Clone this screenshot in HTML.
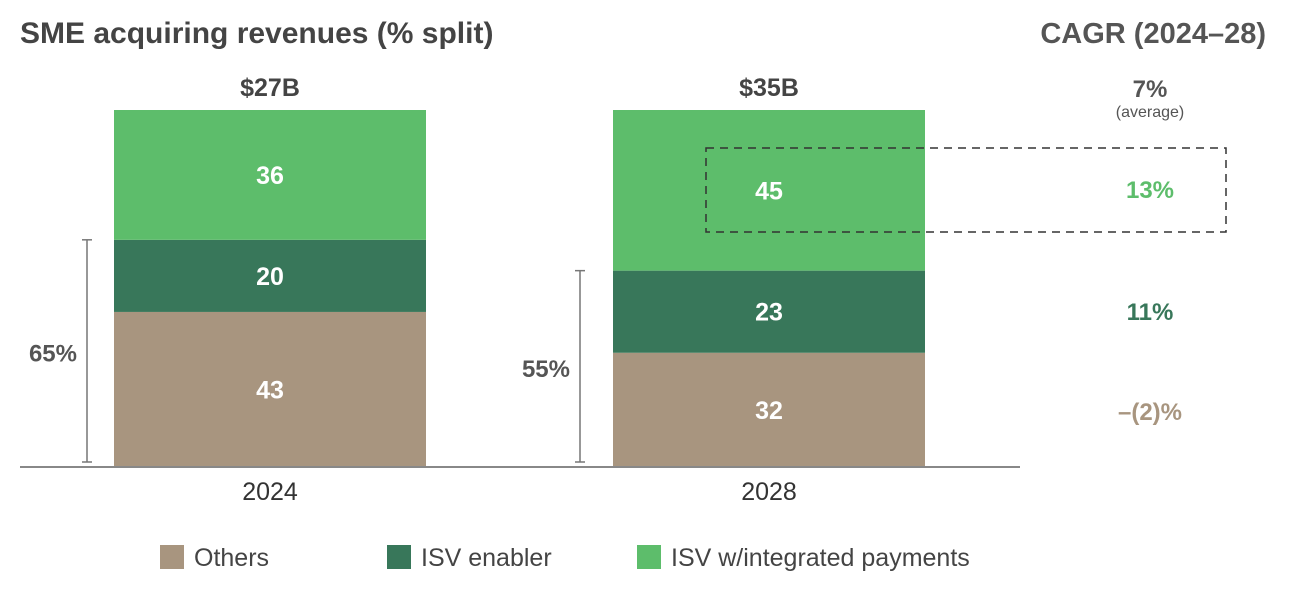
<!DOCTYPE html>
<html><head><meta charset="utf-8"><style>
html,body{margin:0;padding:0;background:#fff}
svg{display:block;font-family:"Liberation Sans",sans-serif}
</style></head><body>
<svg id="chart" width="1298" height="598">
<text x="20" y="43" font-size="30" font-weight="bold" fill="#444">SME acquiring revenues (% split)</text>
<text x="1266" y="43" font-size="29" font-weight="bold" fill="#555" text-anchor="end">CAGR (2024–28)</text>
<g id="bars"></g>
<line x1="20" y1="467" x2="1020" y2="467" stroke="#888" stroke-width="2"/>
<rect x="706" y="148" width="520" height="84" fill="none" stroke="#333" stroke-width="1.5" stroke-dasharray="8,6"/>
<text x="1150" y="97" font-size="24" font-weight="bold" fill="#555" text-anchor="middle">7%</text>
<text x="1150" y="117" font-size="16" fill="#555" text-anchor="middle">(average)</text>
<g id="cagr"></g>
<g id="legend"></g>
</svg>
<script>
const years = ["2024","2028"];
const totals = ["$27B","$35B"];
const others = [43,32];
const enabler = [20,23];
const integrated = [36,45];
const brackets = ["65%","55%"];
const cagrLabels = ["13%","11%","–(2)%"];
const seriesNames = ["Others","ISV enabler","ISV w/integrated payments"];
const colors = ["#a8957f","#38775a","#5dbd6b"];
const NS = "http://www.w3.org/2000/svg";
const yBase = 467, yTop = 110, barW = 312;
const xCenter = i => 270 + i*499;
function el(tag, attrs, parent, text){const e=document.createElementNS(NS,tag);for(const k in attrs)e.setAttribute(k,attrs[k]);if(text!==undefined)e.textContent=text;parent.appendChild(e);return e;}
const gb = document.getElementById("bars");
years.forEach((yr,i)=>{
  const vals=[others[i],enabler[i],integrated[i]];
  const sum=vals.reduce((a,b)=>a+b,0);
  const scale=(yBase-yTop)/sum;
  let y=yBase;
  const cx=xCenter(i);
  vals.forEach((v,s)=>{
    const h=v*scale;
    const r=el("rect",{x:cx-barW/2,y:y-h,width:barW,height:h,fill:colors[s]},gb);
    
    
    const t=el("text",{x:cx,y:y-h/2+9,"font-size":25,"font-weight":"bold",fill:"#fff","text-anchor":"middle"},gb,String(v));
    
    
    y-=h;
  });
  const tt=el("text",{x:cx,y:96,"font-size":25,"font-weight":"bold",fill:"#444","text-anchor":"middle"},gb,totals[i]);
  
  
  const yl=el("text",{x:cx,y:500,"font-size":25,fill:"#333","text-anchor":"middle"},gb,yr);
  
  
  const bTop=yBase-(others[i]+enabler[i])*scale;
  const bx=cx-barW/2-(i===0?27:33);
  const br=el("g",{stroke:"#777","stroke-width":1.5},gb);
  
  
  el("line",{x1:bx,y1:bTop,x2:bx,y2:yBase-5},br);
  el("line",{x1:bx-5,y1:bTop,x2:bx+5,y2:bTop},br);
  el("line",{x1:bx-5,y1:yBase-5,x2:bx+5,y2:yBase-5},br);
  const bl=el("text",{x:bx-10,y:(bTop+yBase)/2+8,"font-size":24,"font-weight":"bold",fill:"#555","text-anchor":"end"},gb,brackets[i]);
  
  
});
const gc=document.getElementById("cagr");
const cagrY=[190,312,412];
const cagrColors=[colors[2],colors[1],colors[0]];
cagrLabels.forEach((c,k)=>{
  const t=el("text",{x:1150,y:cagrY[k]+8,"font-size":24,"font-weight":"bold",fill:cagrColors[k],"text-anchor":"middle"},gc,c);
  
  
});
const gl=document.getElementById("legend");
const lx=[160,387,637];
seriesNames.forEach((n,s)=>{
  const g=el("g",{},gl);
  
  
  el("rect",{x:lx[s],y:545,width:24,height:24,fill:colors[s]},g);
  el("text",{x:lx[s]+34,y:566,"font-size":25,fill:"#444"},g,n);
});
</script>
</body></html>
